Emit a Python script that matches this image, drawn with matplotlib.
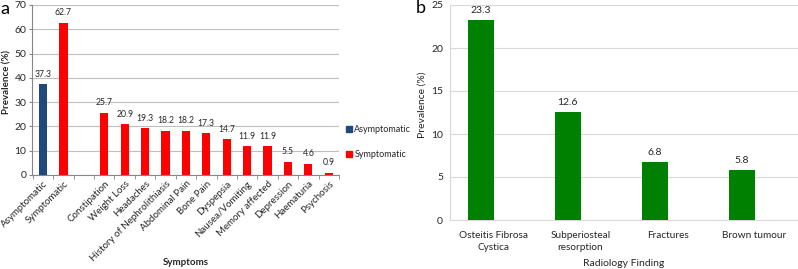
import numpy as np
import matplotlib
matplotlib.use("Agg")
from matplotlib import pyplot as plt
from matplotlib.patches import Patch

plt.rcParams['font.family'] = ['Lato', 'DejaVu Sans']

# panel a data
overall_labels = ["Asymptomatic", "Symptomatic"]
overall_values = [37.3, 62.7]
symptom_labels = ["Constipation", "Weight Loss", "Headaches", "History of Nephrolithiasis",
                  "Abdominal Pain", "Bone Pain", "Dyspepsia", "Nausea/Vomiting",
                  "Memory affected", "Depression", "Haematuria", "Psychosis"]
symptom_values = [25.7, 20.9, 19.3, 18.2, 18.2, 17.3, 14.7, 11.9, 11.9, 5.5, 4.6, 0.9]

# panel b data
finding_labels = ["Osteitis Fibrosa\nCystica", "Subperiosteal\nresorption", "Fractures", "Brown tumour"]
finding_values = [23.3, 12.6, 6.8, 5.8]

blue = '#1F497D'
red = '#FF0000'
green = '#008000'
txt = '#262626'

fig = plt.figure(figsize=(7.98, 2.69), dpi=100)

# ---- panel a ----
ax1 = fig.add_axes([32 / 798, 1 - 175 / 269, 307 / 798, 170 / 269])
pos_overall = np.arange(len(overall_labels))
pos_sym = np.arange(len(symptom_labels)) + len(overall_labels) + 1  # one empty slot
all_pos = np.concatenate([pos_overall, pos_sym])
all_labels = overall_labels + symptom_labels
all_vals = overall_values + symptom_values

ax1.bar(pos_overall[:1], overall_values[:1], width=0.4, color=blue, zorder=3)
ax1.bar(pos_overall[1:], overall_values[1:], width=0.4, color=red, zorder=3)
ax1.bar(pos_sym, symptom_values, width=0.4, color=red, zorder=3)
for x, v in zip(all_pos, all_vals):
    ax1.text(x, v + 2.2, f"{v}", ha='center', va='bottom', fontsize=6.2, color=txt)

ax1.set_xlim(-0.54, 14.44)
ax1.set_ylim(0, 70)
ax1.set_yticks(np.arange(0, 71, 10))
ax1.set_xticks(all_pos)
ax1.set_xticklabels(all_labels, rotation=45, ha='right', rotation_mode='anchor',
                    fontsize=7, color=txt)
ax1.set_xticks(np.arange(-0.5, 15, 1), minor=True)
ax1.tick_params(axis='x', which='major', length=0, pad=3)
ax1.tick_params(axis='x', which='minor', length=3, color='#868686')
ax1.tick_params(axis='y', labelsize=7.5, colors=txt, length=2, color='#868686', pad=2)
ax1.grid(axis='y', color='#BFBFBF', linewidth=0.8, zorder=0)
for s in ['top', 'right']:
    ax1.spines[s].set_visible(False)
for s in ['left', 'bottom']:
    ax1.spines[s].set_color('#868686')
    ax1.spines[s].set_linewidth(0.8)
ax1.set_ylabel("Prevalence (%)", fontsize=7, fontweight='bold', color=txt)
ax1.yaxis.set_label_coords(-0.068, 0.547)
ax1.set_xlabel("Symptoms", fontsize=7, fontweight='bold', color=txt)
ax1.xaxis.set_label_coords(0.5, -0.49)

handles = [Patch(color=blue), Patch(color=red)]
fig.legend(handles, overall_labels, loc='center left', bbox_to_anchor=(338 / 798, 1 - 142 / 269),
           frameon=False, fontsize=6.5, handlelength=0.6, handleheight=0.6,
           handletextpad=0.3, labelspacing=1.8, labelcolor=txt)

fig.text(5 / 798, 1 - 9 / 269, "a", fontsize=13, ha='center', va='center', color='black')

# ---- panel b ----
ax2 = fig.add_axes([450 / 798, 1 - 220 / 269, 348 / 798, 215 / 269])
xb = np.arange(len(finding_labels))
bw = 0.29
# bars sit in the left half of each category slot
ax2.bar(xb - bw / 2, finding_values, width=bw, color=green, zorder=3)
for x, v in zip(xb - bw / 2, finding_values):
    ax2.text(x, v + 0.55, f"{v}", ha='center', va='bottom', fontsize=7.5, color=txt)
ax2.set_xlim(-0.5, 3.5)
ax2.set_ylim(0, 25)
ax2.set_yticks(np.arange(0, 26, 5))
ax2.set_xticks(xb)
ax2.set_xticklabels(finding_labels, fontsize=7.2, color=txt, linespacing=1.35)
ax2.tick_params(axis='x', length=0, pad=8)
ax2.tick_params(axis='y', length=0, labelsize=7.5, colors=txt, pad=5)
ax2.grid(axis='y', color='#D9D9D9', linewidth=0.8, zorder=0)
for s in ['top', 'right']:
    ax2.spines[s].set_visible(False)
ax2.spines['left'].set_color('#D9D9D9')
ax2.spines['bottom'].set_color('#D9D9D9')
ax2.set_ylabel("Prevalence (%)", fontsize=7.5, color=txt)
ax2.yaxis.set_label_coords(-0.066, 0.535)
ax2.set_xlabel("Radiology Finding", fontsize=7.5, color=txt, labelpad=5)

fig.text(421 / 798, 1 - 8 / 269, "b", fontsize=13, ha='center', va='center', color='black')

fig.savefig("out.png", dpi=100)
